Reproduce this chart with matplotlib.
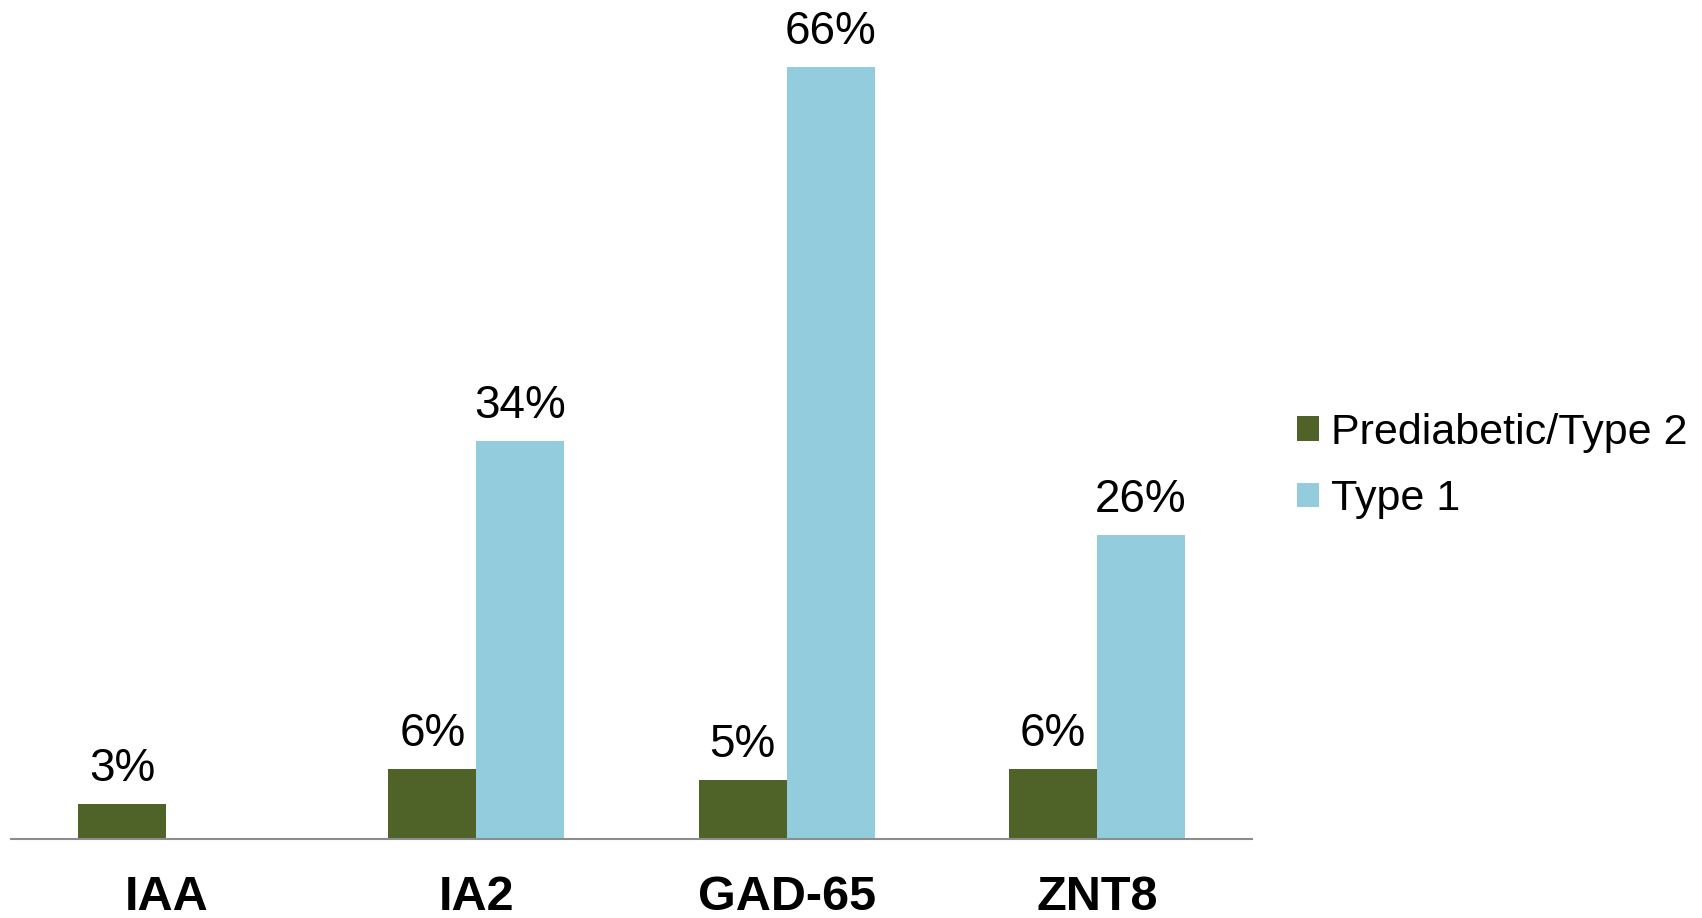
import matplotlib
matplotlib.use("Agg")
import matplotlib.pyplot as plt
import numpy as np

plt.rcParams['font.family'] = ['Liberation Sans', 'DejaVu Sans']

categories = ["IAA", "IA2", "GAD-65", "ZNT8"]
series_names = ["Prediabetic/Type 2", "Type 1"]
prediabetic_t2 = [3, 6, 5, 6]
type1 = [None, 34, 66, 26]
colors = ["#4F6228", "#93CDDD"]

W, H = 1702, 918
fig = plt.figure(figsize=(W / 100, H / 100), dpi=100)
ax = fig.add_axes([11 / W, (H - 838.7) / H, (1252 - 11) / W, (838.7 - 19.7) / H])

x = np.arange(len(categories))
width = 88 / 310

h1 = ax.bar(x - width / 2, prediabetic_t2, width, color=colors[0], label=series_names[0])
t1_vals = [np.nan if v is None else v for v in type1]
h2 = ax.bar(x + width / 2, t1_vals, width, color=colors[1], label=series_names[1])

for xs, vals in ((x - width / 2, prediabetic_t2), (x + width / 2, type1)):
    for xi, v in zip(xs, vals):
        if v is None:
            continue
        ax.annotate(f"{v}%", (xi, v), xytext=(0, 16.5), textcoords="offset points",
                    ha="center", va="baseline", fontsize=33, color="black")

ax.set_xlim(-0.5, len(categories) - 0.5)
ax.set_ylim(0, 70)
ax.set_yticks([])
ax.set_xticks(x)
ax.set_xticklabels(categories, fontsize=35, fontweight="bold")
ax.tick_params(axis="x", length=0, pad=26)
for s in ("top", "right", "left"):
    ax.spines[s].set_visible(False)
ax.spines["bottom"].set_color("#8C8C8C")
ax.spines["bottom"].set_linewidth(1.5)

fig.legend(handles=[h1, h2], labels=series_names, loc="center left",
           bbox_to_anchor=(1297 / W, 1 - 466 / H), bbox_transform=fig.transFigure,
           frameon=False, fontsize=31, handlelength=0.5, handleheight=0.5,
           handletextpad=0.3, labelspacing=0.62, borderpad=0, borderaxespad=0)

fig.savefig("out.png", dpi=100)
